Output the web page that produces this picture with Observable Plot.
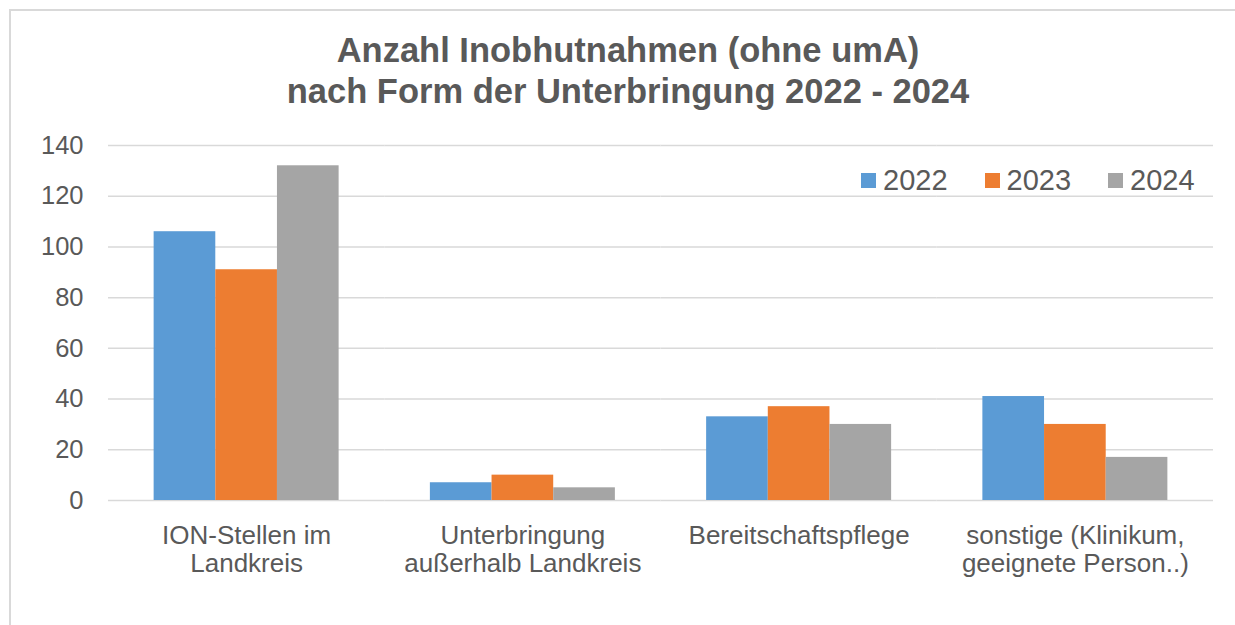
<!DOCTYPE html>
<html><head><meta charset="utf-8">
<script src="https://cdn.jsdelivr.net/npm/d3@7"></script>
<script src="https://cdn.jsdelivr.net/npm/@observablehq/plot@0.6"></script>
<style>
body{margin:0;background:#fff;font-family:"Liberation Sans",Arial,sans-serif;}
#wrap{position:relative;width:1235px;height:625px;overflow:hidden;background:#fff;}
#frame{position:absolute;left:9px;top:9px;width:1300px;height:700px;border:2px solid #d9d9d9;box-sizing:border-box;}
#title{position:absolute;left:0;width:1256px;top:30px;text-align:center;font-weight:bold;font-size:34.5px;color:#595959;line-height:41px;}
#legend{position:absolute;left:861px;top:166px;display:flex;align-items:center;height:29px;font-size:29px;line-height:29px;color:#595959;}
#legend .item{display:flex;align-items:center;margin-right:37px;}
#legend .sw{display:inline-block;width:15px;height:15px;margin-right:7px;}
#chart{position:absolute;left:0;top:0;}
</style>
</head><body>
<div id="wrap">
  <div id="frame"></div>
  <div id="chart"></div>
  <div id="title">Anzahl Inobhutnahmen (ohne umA)<br>nach Form der Unterbringung 2022 - 2024</div>
  <div id="legend"></div>
</div>
<script>
const categories = ["ION-Stellen im\nLandkreis", "Unterbringung\naußerhalb Landkreis", "Bereitschaftspflege", "sonstige (Klinikum,\ngeeignete Person..)"];
const years = ["2022", "2023", "2024"];
const values2022 = [106, 7, 33, 41];
const values2023 = [91, 10, 37, 30];
const values2024 = [132, 5, 30, 17];
const colors = ["#5B9BD5", "#ED7D31", "#A5A5A5"];
const yTicks = [0, 20, 40, 60, 80, 100, 120, 140];

const series = [values2022, values2023, values2024];
const data = [];
categories.forEach((c, i) => years.forEach((y, j) => data.push({cat: c, year: y, value: series[j][i]})));

const chart = Plot.plot({
  width: 1235,
  height: 625,
  marginLeft: 108,
  marginRight: 22,
  marginTop: 145,
  marginBottom: 125,
  style: {fontFamily: '"Liberation Sans", Arial, sans-serif', color: "#595959", background: "transparent", overflow: "visible"},
  fx: {domain: categories, padding: 0, round: false, label: null},
  x: {domain: years, paddingInner: 0, paddingOuter: 0.74, round: false, axis: null},
  y: {domain: [0, 140], label: null},
  color: {domain: years, range: colors},
  marks: [
    Plot.ruleY(yTicks, {stroke: "#d9d9d9", strokeWidth: 1.5}),
    Plot.barY(data, {fx: "cat", x: "year", y: "value", fill: "year"}),
    Plot.axisY({ticks: yTicks, tickSize: 0, tickPadding: 25, fontSize: 25.5, label: null, fill: "#595959"}),
    Plot.axisFx({anchor: "bottom", tickSize: 0, tickPadding: 23.5, fontSize: 26, lineHeight: 1.077, label: null, fill: "#595959"})
  ]
});
document.getElementById("chart").appendChild(chart);

const legend = document.getElementById("legend");
years.forEach((y, j) => {
  const item = document.createElement("span");
  item.className = "item";
  const sw = document.createElement("span");
  sw.className = "sw";
  sw.style.background = colors[j];
  item.appendChild(sw);
  item.appendChild(document.createTextNode(y));
  legend.appendChild(item);
});
</script>
</body></html>
